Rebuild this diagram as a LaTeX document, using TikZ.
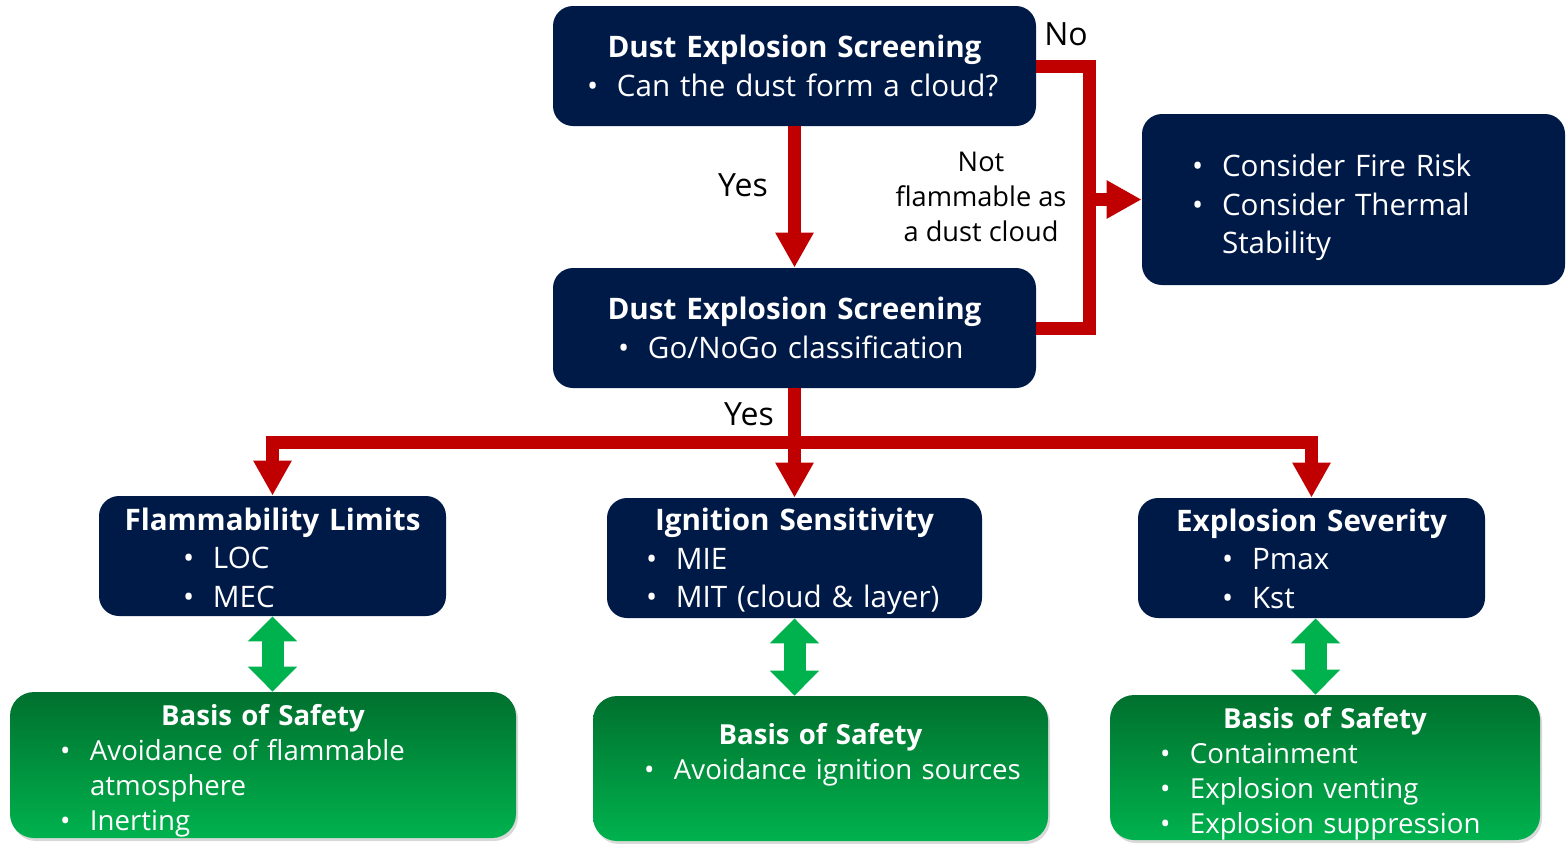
\documentclass[tikz,border=0pt]{standalone}
\usepackage{fontspec}
\setmainfont{Open Sans}
\usetikzlibrary{arrows.meta,shadows}

\definecolor{navy}{RGB}{0,26,72}
\definecolor{flowred}{RGB}{192,0,0}
\definecolor{bosgreen}{RGB}{0,178,78}
\definecolor{bosdark}{RGB}{0,112,46}

% bullet line: text starts #1 from the box edge
\newcommand{\bpt}[2]{\par\hspace*{\dimexpr#1-15pt\relax}\makebox[15pt][l]{\textbullet}#2}
\newcommand{\bcont}[2]{\par\hspace*{#1}#2}
% title, optional extra height pushes the text down
\newcommand{\btitle}[2][0pt]{{\centering\bfseries\rule{0pt}{\dimexpr11pt+#1\relax}#2\par}}

\tikzset{
  navybox/.style={rounded corners=10pt, fill=navy, text=white, inner sep=0pt, align=left,
    font=\fontsize{14.8}{19.25}\selectfont},
  greenbox/.style={rounded corners=12pt, top color=bosdark, bottom color=bosgreen, text=white,
    inner sep=0pt, align=left, font=\fontsize{13.8}{17.5}\selectfont,
    drop shadow={opacity=0.3, shadow xshift=1pt, shadow yshift=-1.5pt}},
  redline/.style={draw=flowred, line width=6.5pt},
  redarrow/.style={redline, -{Triangle[width=18pt,length=17.5pt]}},
  greenarrow/.style={draw=bosgreen, line width=11pt,
    {Triangle[width=24pt,length=12.5pt]}-{Triangle[width=24pt,length=12.5pt]}},
  lbl/.style={text=black, align=center, inner sep=0pt}
}

\begin{document}
\begin{tikzpicture}[x=0.5pt, y=-0.5pt]
    \useasboundingbox (0,0) rectangle (1566,843);
    % Screening steps
    \node[navybox, text width=241.5pt, minimum height=60pt] (cloud) at (794.5,66)
        {\btitle{Dust Explosion Screening}\bpt{32pt}{Can the dust form a cloud?}};
    \node[navybox, text width=241.5pt, minimum height=60pt] (gonogo) at (794.5,328)
        {\btitle{Dust Explosion Screening}\bpt{47.5pt}{Go/NoGo classification}};
    \node[navybox, text width=211.5pt, minimum height=85.5pt] (fire) at (1353.5,199.5)
        {\bpt{40pt}{Consider Fire Risk}\bpt{40pt}{Consider Thermal}\bcont{40pt}{Stability}};
    % Test groups
    \node[navybox, text width=173.5pt, minimum height=60pt] (flam) at (272.5,556)
        {\btitle[2pt]{Flammability Limits}\bpt{57pt}{LOC}\bpt{57pt}{MEC}};
    \node[navybox, text width=187.5pt, minimum height=60pt] (ign) at (794.5,558)
        {\btitle[4pt]{Ignition Sensitivity}\bpt{34.5pt}{MIE}\bpt{34.5pt}{MIT (cloud \& layer)}};
    \node[navybox, text width=173.5pt, minimum height=60pt] (sev) at (1311.5,558)
        {\btitle[1pt]{Explosion Severity}\bpt{57pt}{Pmax}\bpt{57pt}{Kst}};
    % Basis of safety
    \node[greenbox, text width=253pt, minimum height=73pt] (bos1) at (263,765)
        {\btitle[5pt]{Basis of Safety}\bpt{40pt}{Avoidance of flammable}\bcont{40pt}{atmosphere}\bpt{40pt}{Inerting}};
    \node[greenbox, text width=227.5pt, minimum height=72.5pt] (bos2) at (820.5,768.5)
        {\btitle{Basis of Safety}\bpt{40.5pt}{Avoidance ignition sources}\par\mbox{}};
    \node[greenbox, text width=215pt, minimum height=72.5pt] (bos3) at (1325,767.5)
        {\btitle[5.5pt]{Basis of Safety}\bpt{40pt}{Containment}\bpt{40pt}{Explosion venting}\bpt{40pt}{Explosion suppression}};
    % Labels
    \node[lbl, font=\fontsize{16}{19}\selectfont] (no) at (1066,34) {No};
    \node[lbl, font=\fontsize{16}{19}\selectfont] (yes1) at (743,185) {Yes};
    \node[lbl, font=\fontsize{16}{19}\selectfont] (yes2) at (749,414) {Yes};
    \node[lbl, font=\fontsize{13.6}{17.5}\selectfont] (notflam) at (981,197)
        {Not\\flammable as\\a dust cloud};
    % Red flow
    \coordinate (bk) at (1089,199.5);
    \coordinate (lvl) at (0,442);
    \coordinate (split) at (gonogo.south |- lvl);
    \draw[redarrow] (cloud.south) -- (gonogo.north);
    \draw[redline] (cloud.east) -| (bk) |- (gonogo.east);
    \draw[redarrow] (bk) -- (bk -| fire.west);
    \draw[redline] (gonogo.south) -- (split);
    \draw[redarrow] (split) -- (ign.north);
    \draw[redarrow] (split) -| (flam.north);
    \draw[redarrow] (split) -| (sev.north);
    % Green links
    \draw[greenarrow] (flam.south) -- (flam.south |- bos1.north);
    \draw[greenarrow] (ign.south) -- (ign.south |- bos2.north);
    \draw[greenarrow] ([xshift=2pt]sev.south) -- ([xshift=2pt]sev.south |- bos3.north);
\end{tikzpicture}
\end{document}
